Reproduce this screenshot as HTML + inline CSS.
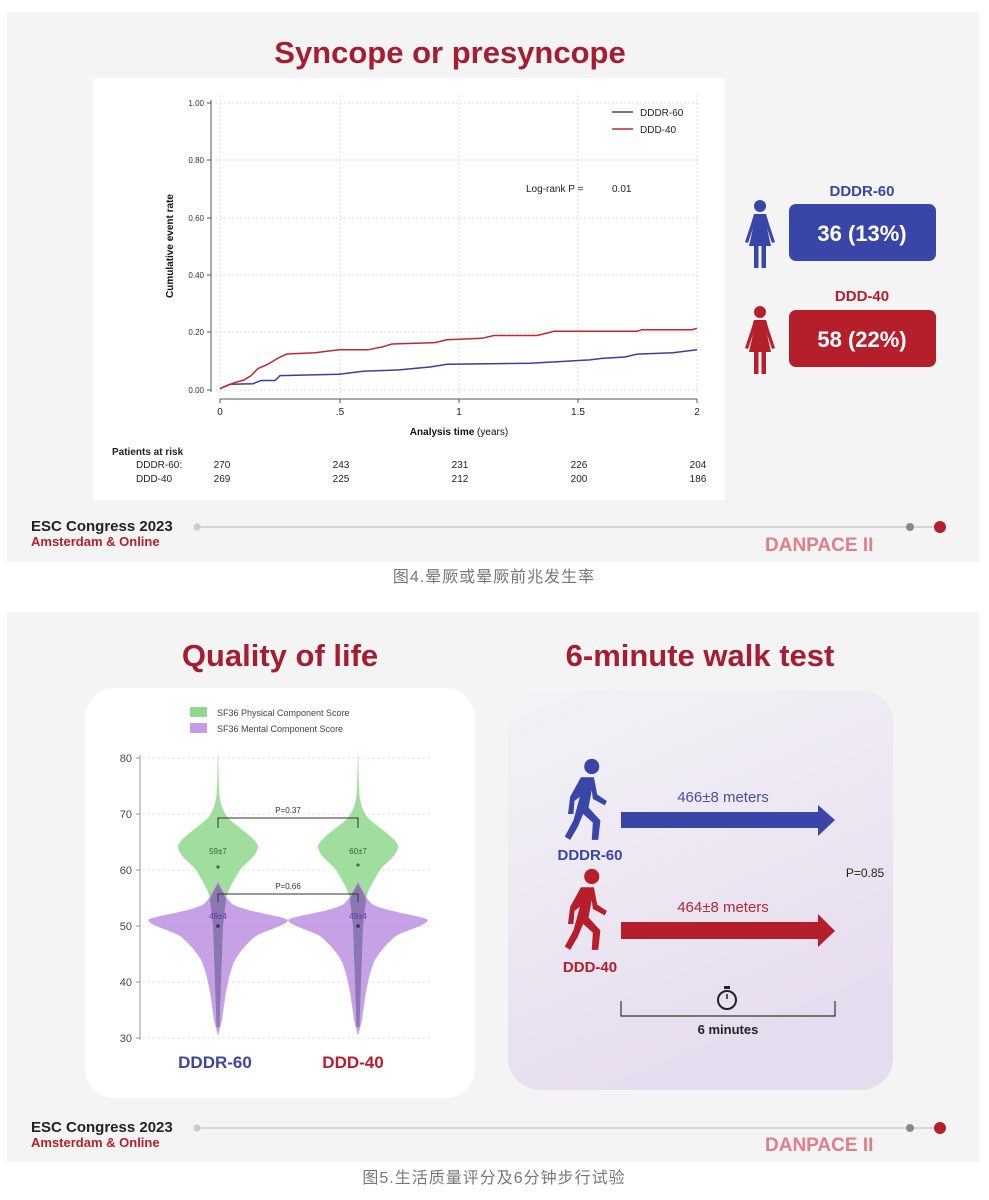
<!DOCTYPE html>
<html><head><meta charset="utf-8"><style>
html,body{margin:0;padding:0;background:#fff;}
svg{display:block;font-family:"Liberation Sans","Noto Sans CJK SC",sans-serif;}
</style></head><body>
<svg width="989" height="1200" viewBox="0 0 989 1200" xmlns="http://www.w3.org/2000/svg">
<defs>
<linearGradient id="wg" x1="0" y1="0" x2="0.4" y2="1">
<stop offset="0" stop-color="#f4f3f6"/><stop offset="1" stop-color="#e6dcef"/></linearGradient>
<g id="woman">
<circle cx="0" cy="-28" r="6"/>
<path d="M-6,-20 L6,-20 L9,-10 L15,8 L12,9 L7,-6 L11,12 L-11,12 L-7,-6 L-12,9 L-15,8 L-9,-10 Z"/>
<rect x="-6" y="12" width="4.5" height="22"/><rect x="1.5" y="12" width="4.5" height="22"/>
</g>
<g id="walker">
<circle cx="22" cy="6" r="7"/>
<path d="M12,16 L24,16 L27,32 L36,38 L34,42 L23,36 L22,28 L19,44 L30,56 L28,74 L22,74 L23,58 L14,50 L9,62 L2,74 L-3,71 L5,56 L11,34 L6,38 L5,50 L0,50 L2,34 Z"/>
</g>
</defs>
<!-- panel 1 -->
<rect x="7" y="12" width="972" height="550" fill="#f4f4f4"/>
<text x="450" y="63" text-anchor="middle" font-size="31" font-weight="bold" fill="#a61d32">Syncope or presyncope</text>
<rect x="93" y="78" width="632" height="422" fill="#fff"/>
<g stroke="#ddd" stroke-dasharray="2,2" stroke-width="1">
<line x1="216" y1="103" x2="700" y2="103"/><line x1="216" y1="160" x2="700" y2="160"/>
<line x1="216" y1="218" x2="700" y2="218"/><line x1="216" y1="275" x2="700" y2="275"/>
<line x1="216" y1="332" x2="700" y2="332"/><line x1="216" y1="390" x2="700" y2="390"/>
<line x1="220" y1="95" x2="220" y2="396"/><line x1="340" y1="95" x2="340" y2="396"/>
<line x1="459" y1="95" x2="459" y2="396"/><line x1="578" y1="95" x2="578" y2="396"/>
<line x1="697" y1="95" x2="697" y2="396"/>
</g>
<g stroke="#555" stroke-width="1">
<line x1="211" y1="100" x2="211" y2="392"/>
<line x1="207" y1="103" x2="211" y2="103"/><line x1="207" y1="160" x2="211" y2="160"/>
<line x1="207" y1="218" x2="211" y2="218"/><line x1="207" y1="275" x2="211" y2="275"/>
<line x1="207" y1="332" x2="211" y2="332"/><line x1="207" y1="390" x2="211" y2="390"/>
<line x1="220" y1="399" x2="697" y2="399"/>
<line x1="220" y1="399" x2="220" y2="403"/><line x1="340" y1="399" x2="340" y2="403"/>
<line x1="459" y1="399" x2="459" y2="403"/><line x1="578" y1="399" x2="578" y2="403"/>
<line x1="697" y1="399" x2="697" y2="403"/>
</g>
<g font-size="8" fill="#333" text-anchor="end">
<text x="204" y="106">1.00</text><text x="204" y="163">0.80</text><text x="204" y="221">0.60</text>
<text x="204" y="278">0.40</text><text x="204" y="335">0.20</text><text x="204" y="393">0.00</text>
</g>
<g font-size="10" fill="#222" text-anchor="middle">
<text x="220" y="415">0</text><text x="340" y="415">.5</text><text x="459" y="415">1</text>
<text x="578" y="415">1.5</text><text x="697" y="415">2</text>
</g>
<text x="459" y="435" text-anchor="middle" font-size="10" fill="#111"><tspan font-weight="bold">Analysis time</tspan> (years)</text>
<text transform="translate(173,246) rotate(-90)" text-anchor="middle" font-size="10" font-weight="bold" fill="#111">Cumulative event rate</text>
<text x="526" y="192" font-size="10" fill="#222">Log-rank P =</text><text x="612" y="192" font-size="10" fill="#222">0.01</text>
<line x1="612" y1="112" x2="633" y2="112" stroke="#3b3fa0" stroke-width="1.5"/>
<text x="640" y="116" font-size="10" fill="#222">DDDR-60</text>
<line x1="612" y1="129" x2="633" y2="129" stroke="#c0282f" stroke-width="1.5"/>
<text x="640" y="133" font-size="10" fill="#222">DDD-40</text>
<polyline fill="none" stroke="#3b3fa0" stroke-width="1.5" points="220,388.6 230,384.3 253,383.7 261,380.5 275,380.5 280,375.6 339,374.2 363,371.3 399,369.9 430,367 447,364.2 530,363.3 566,361.3 590,359.9 602,358.4 625,357 637,354.1 673,352.7 697,349.8"/>
<polyline fill="none" stroke="#c0282f" stroke-width="1.5" points="220,388.6 227,385.7 234,382.8 244,380 251,375.6 258,368.5 268,364.2 280,357 287,354 315,352.7 339,349.8 368,349.8 382,347 392,344 435,342.6 447,339.8 482,338.3 494,335.5 537,335.5 549,332.6 554,331.2 637,331.2 642,329.7 692,329.7 697,328.3"/>
<g font-size="10" fill="#222">
<text x="112" y="455" font-weight="bold">Patients at risk</text>
<text x="136" y="468">DDDR-60:</text><text x="136" y="482">DDD-40</text>
</g>
<g font-size="10" fill="#222" text-anchor="middle">
<text x="222" y="468">270</text><text x="341" y="468">243</text><text x="460" y="468">231</text><text x="579" y="468">226</text><text x="698" y="468">204</text>
<text x="222" y="482">269</text><text x="341" y="482">225</text><text x="460" y="482">212</text><text x="579" y="482">200</text><text x="698" y="482">186</text>
</g>
<use href="#woman" x="760" y="234" fill="#3a45a8"/>
<use href="#woman" x="760" y="340" fill="#b41f2b"/>
<text x="862" y="196" text-anchor="middle" font-size="15" font-weight="bold" fill="#3a45a8">DDDR-60</text>
<rect x="789" y="204" width="147" height="57" rx="7" fill="#3a45a8"/>
<text x="862" y="241" text-anchor="middle" font-size="22" font-weight="bold" fill="#fff">36 (13%)</text>
<text x="862" y="301" text-anchor="middle" font-size="15" font-weight="bold" fill="#b41f2b">DDD-40</text>
<rect x="789" y="310" width="147" height="57" rx="7" fill="#b41f2b"/>
<text x="862" y="347" text-anchor="middle" font-size="22" font-weight="bold" fill="#fff">58 (22%)</text>
<text x="31" y="531" font-size="15" font-weight="bold" fill="#222">ESC Congress 2023</text>
<text x="31" y="546" font-size="13" font-weight="bold" fill="#b41f2b">Amsterdam &amp; Online</text>
<line x1="197" y1="527" x2="940" y2="527" stroke="#ccc" stroke-width="1.5"/>
<circle cx="197" cy="527" r="3.5" fill="#ccc"/><circle cx="910" cy="527" r="4" fill="#888"/><circle cx="940" cy="527" r="6" fill="#b41f2b"/>
<text x="765" y="551" font-size="19" font-weight="bold" fill="#e07e8a">DANPACE II</text>
<text x="494" y="582" text-anchor="middle" font-size="16" fill="#777" letter-spacing="1">图4.晕厥或晕厥前兆发生率</text>
<!-- panel 2 -->
<rect x="7" y="612" width="972" height="550" fill="#f4f4f4"/>
<text x="280" y="666" text-anchor="middle" font-size="31" font-weight="bold" fill="#a61d32">Quality of life</text>
<text x="700" y="666" text-anchor="middle" font-size="31" font-weight="bold" fill="#a61d32">6-minute walk test</text>
<rect x="85" y="688" width="390" height="410" rx="30" fill="#fff"/>
<rect x="508" y="690" width="385" height="400" rx="32" fill="url(#wg)"/>
<rect x="190" y="707" width="17" height="10" fill="#8fd88c"/>
<text x="217" y="716" font-size="9" fill="#444">SF36 Physical Component Score</text>
<rect x="190" y="723" width="17" height="10" fill="#c39be6"/>
<text x="217" y="732" font-size="9" fill="#444">SF36 Mental Component Score</text>
<g stroke="#e4e4e4" stroke-dasharray="3,2">
<line x1="142" y1="758" x2="432" y2="758"/><line x1="142" y1="814" x2="432" y2="814"/>
<line x1="142" y1="870" x2="432" y2="870"/><line x1="142" y1="926" x2="432" y2="926"/>
<line x1="142" y1="982" x2="432" y2="982"/><line x1="142" y1="1038" x2="432" y2="1038"/>
</g>
<g stroke="#999"><line x1="140" y1="755" x2="140" y2="1040"/>
<line x1="136" y1="758" x2="140" y2="758"/><line x1="136" y1="814" x2="140" y2="814"/><line x1="136" y1="870" x2="140" y2="870"/>
<line x1="136" y1="926" x2="140" y2="926"/><line x1="136" y1="982" x2="140" y2="982"/><line x1="136" y1="1038" x2="140" y2="1038"/></g>
<g font-size="11" fill="#444" text-anchor="end">
<text x="132" y="762">80</text><text x="132" y="818">70</text><text x="132" y="874">60</text>
<text x="132" y="930">50</text><text x="132" y="986">40</text><text x="132" y="1042">30</text></g>
<g id="vio">
<path fill="#8fd88c" fill-opacity="0.85" d="M218,748 L219,790 C220,806 224,812 228,818 C236,826 256,838 258,846 C258,856 244,864 240,870 C234,880 228,890 226,898 L223,926 L221,982 L219.5,1027 L216.5,1027 L215,982 L213,926 L210,898 C208,890 202,880 196,870 C192,864 178,856 178,846 C180,838 200,826 208,818 C212,812 216,806 217,790 Z"/>
<path fill="#b98ae0" fill-opacity="0.8" d="M218,881 C222,890 226,898 232,904 C246,912 284,916 288,920 C286,926 266,930 256,936 C246,944 238,954 234,962 C230,972 228,982 226,992 L222,1020 L218,1036 L214,1020 L210,992 C208,982 206,972 202,962 C198,954 190,944 180,936 C170,930 150,926 148,920 C152,916 190,912 204,904 C210,898 214,890 218,881 Z"/>
<path fill="#7d6ca6" fill-opacity="0.75" d="M218,884 C222,890 225,896 226,900 L223,926 L221,982 L219.5,1027 L216.5,1027 L215,982 L213,926 L210,900 C211,896 214,890 218,884 Z"/>
</g>
<use href="#vio" x="140" y="0"/>
<path d="M218,828 L218,818 L358,818 L358,828 M218,902 L218,894 L358,894 L358,902" fill="none" stroke="#333" stroke-width="1"/>
<text x="288" y="813" text-anchor="middle" font-size="8" fill="#333">P=0.37</text>
<text x="288" y="889" text-anchor="middle" font-size="8" fill="#333">P=0.66</text>
<g font-size="8" text-anchor="middle">
<text x="218" y="854" fill="#2d6b2d">59±7</text><text x="358" y="854" fill="#2d6b2d">60±7</text>
<text x="218" y="919" fill="#6a2cb0">49±4</text><text x="358" y="919" fill="#6a2cb0">49±4</text></g>
<circle cx="218" cy="867" r="1.6" fill="#2d7a2d"/><circle cx="358" cy="865" r="1.6" fill="#2d7a2d"/>
<circle cx="218" cy="926" r="1.8" fill="#4b1c8a"/><circle cx="358" cy="926" r="1.8" fill="#4b1c8a"/>
<text x="215" y="1068" text-anchor="middle" font-size="17" font-weight="bold" fill="#3f4696">DDDR-60</text>
<text x="353" y="1068" text-anchor="middle" font-size="17" font-weight="bold" fill="#b41f2b">DDD-40</text>
<!-- walk test -->
<use href="#walker" transform="translate(568,760) scale(1.08)" fill="#3a45a8"/>
<use href="#walker" transform="translate(568,870) scale(1.08)" fill="#b41f2b"/>
<text x="590" y="860" text-anchor="middle" font-size="15" font-weight="bold" fill="#3a45a8">DDDR-60</text>
<text x="590" y="972" text-anchor="middle" font-size="15" font-weight="bold" fill="#b41f2b">DDD-40</text>
<path d="M621,812 L818,812 L818,805 L835,820 L818,836 L818,828 L621,828 Z" fill="#3a45a8"/>
<path d="M621,922 L818,922 L818,914 L835,931 L818,947 L818,939 L621,939 Z" fill="#b41f2b"/>
<text x="723" y="802" text-anchor="middle" font-size="15" fill="#4a4f9a">466±8 meters</text>
<text x="723" y="912" text-anchor="middle" font-size="15" fill="#b02a35">464±8 meters</text>
<text x="865" y="877" text-anchor="middle" font-size="12" fill="#222">P=0.85</text>
<circle cx="727" cy="1000" r="9" fill="none" stroke="#222" stroke-width="2"/>
<rect x="724" y="986" width="6" height="3" fill="#222"/><line x1="727" y1="994" x2="727" y2="999" stroke="#222" stroke-width="1.5"/>
<path d="M621,1001 L621,1016 L835,1016 L835,1001" fill="none" stroke="#333" stroke-width="1.2"/>
<text x="728" y="1034" text-anchor="middle" font-size="13" font-weight="bold" fill="#222">6 minutes</text>
<text x="31" y="1132" font-size="15" font-weight="bold" fill="#222">ESC Congress 2023</text>
<text x="31" y="1147" font-size="13" font-weight="bold" fill="#b41f2b">Amsterdam &amp; Online</text>
<line x1="197" y1="1128" x2="940" y2="1128" stroke="#ccc" stroke-width="1.5"/>
<circle cx="197" cy="1128" r="3.5" fill="#ccc"/><circle cx="910" cy="1128" r="4" fill="#888"/><circle cx="940" cy="1128" r="6" fill="#b41f2b"/>
<text x="765" y="1151" font-size="19" font-weight="bold" fill="#e07e8a">DANPACE II</text>
<text x="494" y="1183" text-anchor="middle" font-size="16" fill="#777" letter-spacing="1">图5.生活质量评分及6分钟步行试验</text>
</svg>
</body></html>
